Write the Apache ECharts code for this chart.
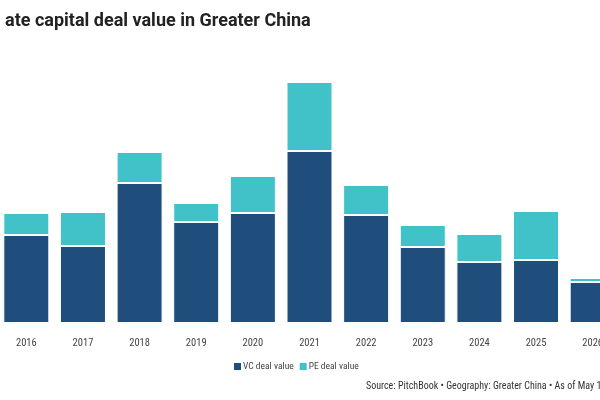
<!DOCTYPE html>
<html>
<head>
<meta charset="utf-8">
<script src="https://cdn.jsdelivr.net/npm/echarts@6/dist/echarts.min.js"></script>
<style>
  html, body { margin: 0; padding: 0; background: #fff; }
  #chart { width: 600px; height: 400px; }
</style>
</head>
<body>
<div id="chart"></div>
<script>
// values in $B
const years = ['2016', '2017', '2018', '2019', '2020', '2021', '2022', '2023', '2024', '2025', '2026'];
const vcValues = [44, 38.5, 70, 50.5, 55, 86, 54, 38, 30.5, 31.5, 20.5];
const peValues = [11, 17, 15.5, 9.5, 18.5, 34.5, 15, 11, 14, 24.5, 2];

const narrow = "'Liberation Sans Narrow', 'Roboto Condensed', Roboto";

const chart = echarts.init(document.getElementById('chart'));

const barStyle = (color) => ({
  color: color,
  borderColor: '#fff',
  borderWidth: 1
});

chart.setOption({
  animation: false,
  textStyle: { fontFamily: narrow },
  title: {
    text: 'ate capital deal value in Greater China',
    left: 0,
    top: 7,
    textStyle: { fontSize: 18, fontWeight: 'bold', color: '#222', fontFamily: 'Roboto' }
  },
  legend: {
    left: 232,
    top: 361,
    padding: 0,
    itemWidth: 9,
    itemHeight: 9,
    itemGap: 4,
    icon: 'rect',
    textStyle: { fontSize: 9.5, color: '#444', fontFamily: narrow, padding: [0, 0, 0, -4] },
    data: ['VC deal value', 'PE deal value']
  },
  graphic: [{
    type: 'text',
    left: 366,
    top: 381,
    style: {
      text: 'Source: PitchBook • Geography: Greater China • As of May 15, 2026',
      fontSize: 10,
      fill: '#333',
      fontFamily: narrow
    }
  }],
  grid: { left: -2, width: 623, top: 43, bottom: 77, outerBoundsMode: 'none' },
  xAxis: {
    type: 'category',
    data: years,
    axisLine: { show: false },
    axisTick: { show: false },
    axisLabel: { color: '#444', fontSize: 10.5, margin: 15, fontFamily: narrow }
  },
  yAxis: {
    type: 'value',
    min: 0,
    max: 140,
    show: false,
    splitLine: { show: false }
  },
  series: [
    {
      name: 'VC deal value',
      type: 'bar',
      stack: 'deal',
      barWidth: 46,
      itemStyle: barStyle('#1f4e7c'),
      data: vcValues
    },
    {
      name: 'PE deal value',
      type: 'bar',
      stack: 'deal',
      barWidth: 46,
      itemStyle: barStyle('#40c2c8'),
      data: peValues
    }
  ]
});
</script>
</body>
</html>
